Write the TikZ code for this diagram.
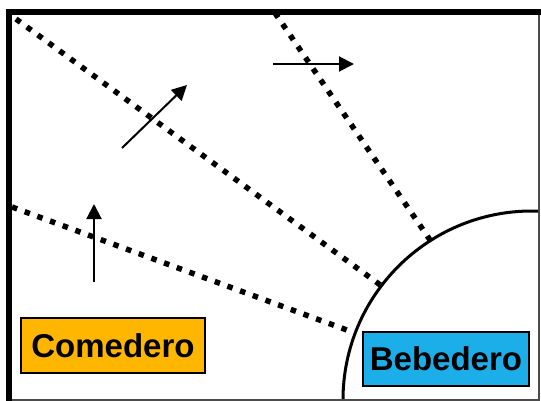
\documentclass[tikz,border=0pt]{standalone}
\usepackage{fontspec}
\setmainfont{Liberation Sans}
\usepackage{xcolor}
\usetikzlibrary{arrows.meta,positioning}
\tikzset{%
  arrow/.style={line width=2pt,-{Triangle[length=15pt,width=15pt]}},
  border/.style={line width=6pt},
  zone/.style={line width=5.5pt,dash pattern=on 5.5pt off 8pt},
  feeder/.style={draw,line width=2pt,font=\bfseries\fontsize{33}{33}\selectfont,inner sep=0pt},
}
\definecolor{myorange}{HTML}{FFB600}
\definecolor{myblue}{HTML}{1CAEE8}

\begin{document}
\begin{tikzpicture}[x=1pt,y=-1pt]
      \useasboundingbox (0,0) rectangle (541,401);
      \fill[white] (0,0) rectangle (541,401);

      % frame
      \draw[line width=2pt,black!70] (539,12) -- (539,399.5) -- (9,399.5);
      \draw[border] (9,401) -- (9,12) -- (541,12);

      % water zone
      \begin{scope}
        \clip (12,15) rectangle (538,398.5);
        \draw[line width=3pt] (532,400) circle (189);
      \end{scope}

      % dotted limits
      \coordinate (l1a) at (16,19);
      \coordinate (l1b) at (383,287);
      \coordinate (l2a) at (275,13);
      \coordinate (l2b) at (430,240);
      \coordinate (l3a) at (12,207);
      \coordinate (l3b) at (355,333);
      \draw[zone] (l1a) -- (l1b);
      \draw[zone] (l2a) -- (l2b);
      \draw[zone] (l3a) -- (l3b);

      % movement
      \coordinate (up0) at (94,282);
      \coordinate (up1) at (94,204);
      \coordinate (diag0) at (122,148);
      \coordinate (diag1) at (187,85);
      \coordinate (right0) at (273,64);
      \coordinate (right1) at (354,64);
      \draw[arrow] (up0) -- (up1);
      \draw[arrow] (diag0) -- (diag1);
      \draw[arrow] (right0) -- (right1);

      \node[feeder,fill=myorange,minimum width=184pt,minimum height=55pt] (comedero) at (113,345.5) {Comedero};
      \node[feeder,fill=myblue,minimum width=166pt,minimum height=54pt] (bebedero) at (446,359) {Bebedero};
    \end{tikzpicture}
\end{document}
